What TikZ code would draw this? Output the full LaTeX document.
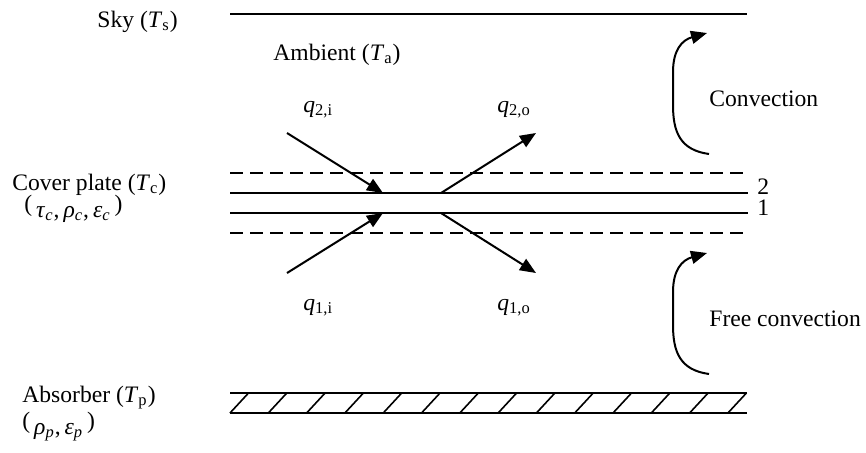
\documentclass[tikz,border=0pt]{standalone}
\usepackage{fontspec}
\setmainfont{Liberation Serif}
\usetikzlibrary{arrows.meta, positioning, calc}

\begin{document}
\begin{tikzpicture}[
    x=0.5pt, y=-0.5pt,
    font=\fontsize{11.8}{14}\selectfont,
    lbl/.style={anchor=base west, inner sep=0pt},
    plate/.style={line width=1pt},
    dsh/.style={line width=1pt, dash pattern=on 6.5pt off 3.5pt},
    ray/.style={line width=1pt, -{Triangle[length=8pt, width=6.5pt]}},
    flow/.style={line width=1pt, -{Triangle[length=8pt, width=6.5pt]}},
]
\useasboundingbox (0,0) rectangle (866,452);

% -- Labels (left side) --
\node[lbl] (sky) at (97, 27) {Sky (\textit{T}\textsubscript{s})};
\node[lbl] (amb) at (273, 60) {Ambient (\textit{T}\textsubscript{a})};
\node[lbl] (cov) at (12, 190) {Cover plate (\textit{T}\textsubscript{c})};
\node[lbl] (covp) at (24, 211)
    {(\,\raisebox{-3pt}{\textit{τ}\textsubscript{\textit{c}},\,\textit{ρ}\textsubscript{\textit{c}},\,\textit{ε}\textsubscript{\textit{c}}}\,)};
\node[lbl] (abs) at (22, 402) {Absorber (\textit{T}\textsubscript{p})};
\node[lbl] (absp) at (22, 428)
    {(\,\raisebox{-3pt}{\textit{ρ}\textsubscript{\textit{p}},\,\textit{ε}\textsubscript{\textit{p}}}\,)};

% -- Sky line --
\draw[plate] (230, 14) -- (747, 14);

% -- Cover plate --
\draw[dsh] (230, 173) -- (748, 173);
\draw[plate] (230, 193) -- (748, 193);
\draw[plate] (230, 213) -- (748, 213);
\draw[dsh] (230, 233) -- (748, 233);
\node[lbl] (two) at (757, 194) {2};
\node[lbl] (one) at (757, 215) {1};

% -- Absorber (hatched) --
\draw[plate] (230, 393) -- (747, 393);
\draw[plate] (230, 413) -- (747, 413);
\foreach \k in {0,...,13}
    \draw[line width=0.8pt] ({230+38.3*\k}, 413) -- ++(18.5, -20);

% -- Radiation rays --
\coordinate (i2s) at (287, 133);
\coordinate (i2e) at (383, 193);
\coordinate (i1s) at (287, 273);
\coordinate (i1e) at (383, 213);
\coordinate (o2s) at (441, 193);
\coordinate (o2e) at (536, 133);
\coordinate (o1s) at (441, 213);
\coordinate (o1e) at (536, 273);
\draw[ray] (i2s) -- (i2e);
\draw[ray] (i1s) -- (i1e);
\draw[ray] (o2s) -- (o2e);
\draw[ray] (o1s) -- (o1e);
\node[lbl] (q2i) at (303, 112) {\textit{q}\textsubscript{2,i}};
\node[lbl] (q2o) at (497, 112) {\textit{q}\textsubscript{2,o}};
\node[lbl] (q1i) at (303, 310) {\textit{q}\textsubscript{1,i}};
\node[lbl] (q1o) at (497, 310) {\textit{q}\textsubscript{1,o}};

% -- Convection arrows --
\coordinate (cb) at (709, 154);
\coordinate (ct) at (707, 33);
\coordinate (fb) at (709, 374);
\coordinate (ft) at (707, 253);
\draw[flow] (cb) .. controls (680, 150) and (673, 132) .. (673, 105)
    -- (673, 72) .. controls (673, 50) and (682, 40) .. (ct);
\draw[flow] (fb) .. controls (680, 370) and (673, 352) .. (673, 325)
    -- (673, 292) .. controls (673, 270) and (682, 260) .. (ft);
\node[lbl] (conv) at (709, 106) {Convection};
\node[lbl] (fconv) at (709, 326) {Free convection};

\end{tikzpicture}
\end{document}
